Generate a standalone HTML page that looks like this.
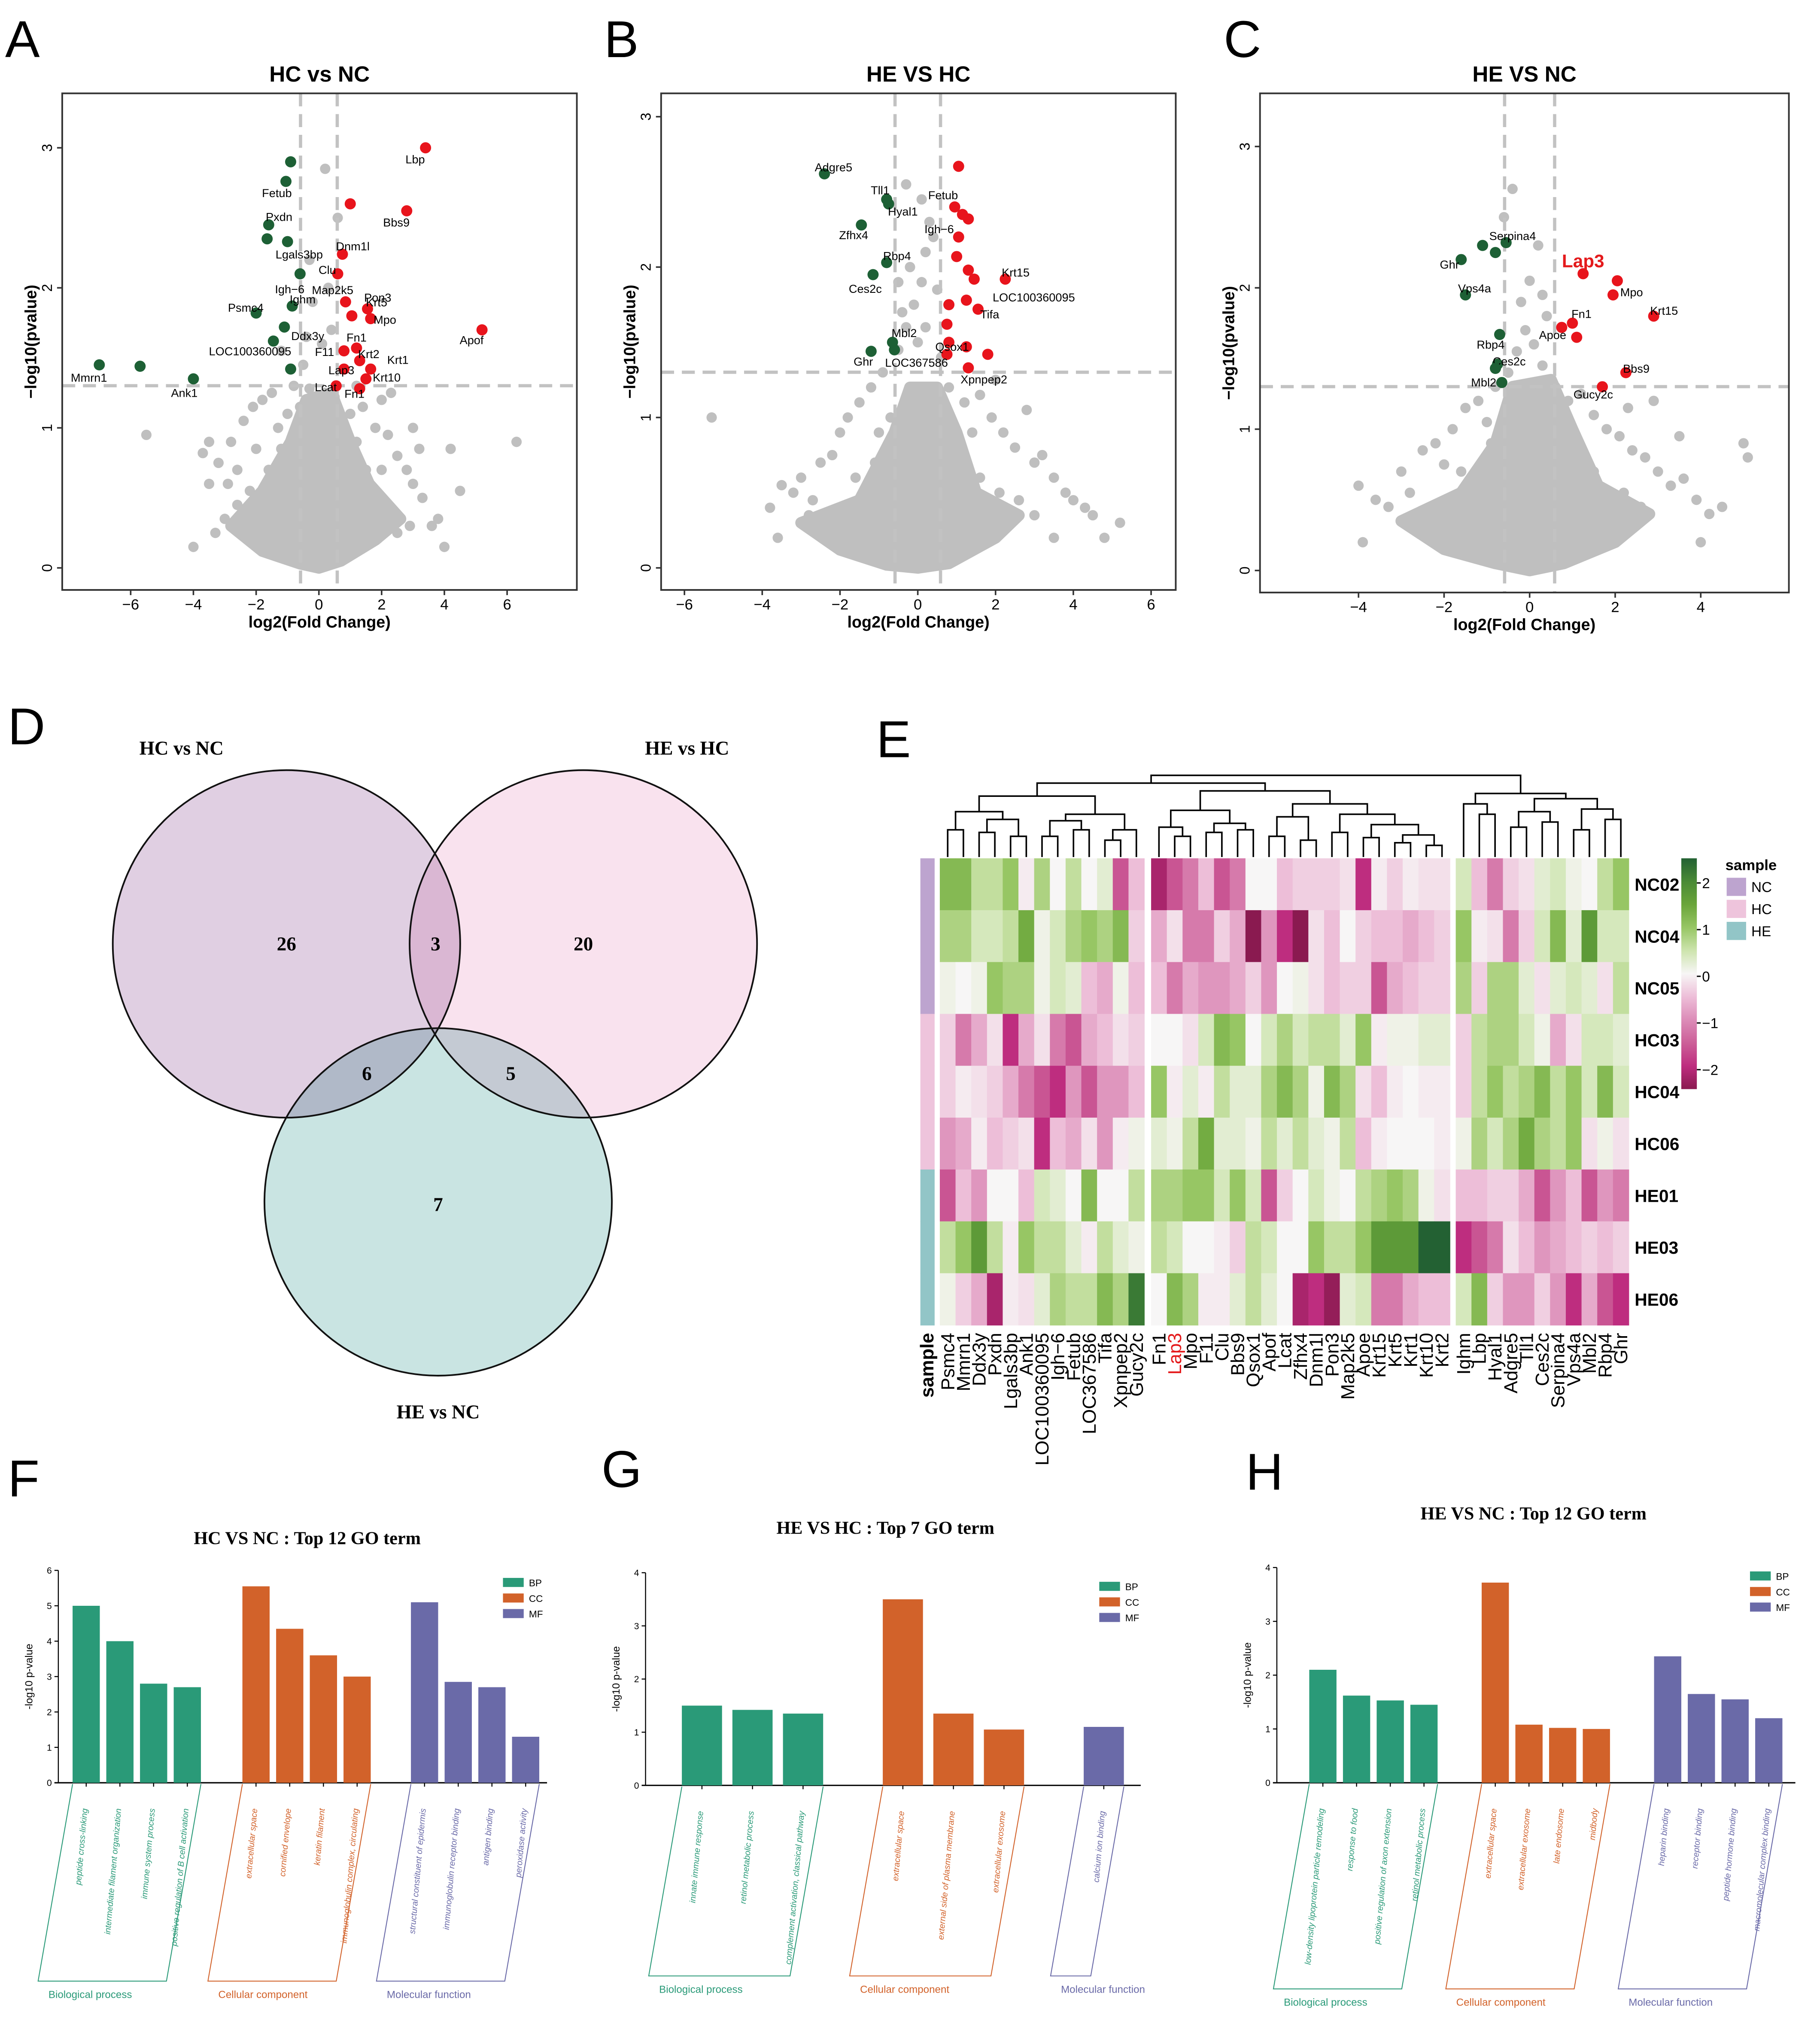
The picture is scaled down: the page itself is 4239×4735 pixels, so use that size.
<!DOCTYPE html>
<html><head><meta charset="utf-8"><style>
html,body{margin:0;padding:0;background:#fff}
svg{display:block}
text{font-family:"Liberation Sans",sans-serif}
.serif{font-family:"Liberation Serif",serif}
</style></head><body>
<svg id="fig" xmlns="http://www.w3.org/2000/svg" width="4239" height="4735" viewBox="0 0 1404 1568" preserveAspectRatio="none">
<rect x="0" y="0" width="1404" height="1568" fill="#fff"/>
<g id="volA"></g>
<g id="volB"></g>
<g id="volC"></g>
<g id="venn"></g>
<g id="heat"></g>
<g id="barF"></g>
<g id="barG"></g>
<g id="barH"></g>
<g id="letters">
<text x="4" y="44" font-size="40">A</text>
<text x="466" y="44" font-size="40">B</text>
<text x="944" y="44" font-size="40">C</text>
<text x="6" y="574" font-size="40">D</text>
<text x="676" y="584" font-size="40">E</text>
<text x="6" y="1154" font-size="40">F</text>
<text x="464" y="1147" font-size="40">G</text>
<text x="961" y="1149" font-size="40">H</text>
</g>
</svg>
<script>
const NS="http://www.w3.org/2000/svg";
function mk(parent,tag,attrs,txt){const e=document.createElementNS(NS,tag);for(const k in attrs)e.setAttribute(k,attrs[k]);if(txt!==undefined)e.textContent=txt;parent.appendChild(e);return e;}

/* ---------------- VOLCANO DATA ---------------- */
const greyA=[[-5.5,0.95],[-3.7,0.82],[-3.5,0.9],[-3.2,0.75],[-2.9,0.6],[-2.6,0.7],[-2.4,1.05],[-2.1,1.15],[-1.8,1.2],[-1.3,1.0],[-2.6,0.45],[-3.0,0.35],[-3.3,0.25],[-2.0,0.85],[-1.5,1.25],[-1.0,1.1],[-0.8,1.3],[-0.3,1.28],[0.2,1.25],[0.5,1.22],[1.0,1.1],[1.4,1.15],[1.8,1.0],[2.2,0.95],[2.5,0.8],[2.8,0.7],[3.0,0.6],[3.3,0.5],[3.8,0.35],[4.2,0.85],[4.5,0.55],[2.0,1.2],[2.3,1.25],[3.0,1.0],[6.3,0.9],[3.6,0.3],[4.0,0.15],[-4.0,0.15],[-1.2,1.55],[-0.5,1.45],[0.2,2.85],[-0.3,2.2],[0.3,2.0],[-0.2,1.9],[0.4,1.7],[-0.4,1.65],[0.1,1.6],[0.6,2.5],[2.5,0.25],[-2.2,0.2],[1.2,0.9],[-1.2,0.85],[-0.7,0.95],[0.8,0.95],[0,1.0],[-3.5,0.6],[-2.8,0.9],[-2.2,0.55],[-1.8,0.4],[2.0,0.7],[2.2,0.45],[1.5,0.7],[-1.2,0.6],[3.2,0.85],[1.2,1.3],[-1.6,0.7],[1.7,0.45],[-2.5,0.3],[2.9,0.3],[-0.6,1.15]];
const coreA=[[-2.8,0.3],[-1.8,0.12],[-0.6,0.03],[0,0.0],[0.7,0.05],[1.8,0.2],[2.6,0.35],[1.6,0.6],[1.0,0.9],[0.4,1.25],[-0.4,1.2],[-0.9,0.9],[-1.8,0.55]];
const redA=[[3.4,3.0],[2.8,2.55],[1.0,2.6],[0.75,2.24],[0.6,2.1],[1.05,1.8],[0.85,1.9],[1.55,1.85],[1.65,1.78],[5.2,1.7],[1.2,1.57],[0.8,1.55],[1.3,1.48],[1.65,1.42],[0.8,1.42],[1.5,1.35],[0.55,1.3],[1.3,1.28]];
const redALab=["Lbp","Bbs9","","Dnm1l","Clu","Pon3","Map2k5","Krt5","Mpo","Apof","Fn1","F11","Krt2","Krt1","Lap3","Krt10","Lcat","Fn1"];
const redAOff=[[-8,9],[-8,9],[0,0],[8,-6],[-8,-3],[20,-14],[-10,-9],[7,-5],[11,1],[-8,8],[0,-8],[-15,1],[7,-5],[21,-7],[-2,1],[16,-1],[-8,1],[-4,4]];
const greenA=[[-0.9,2.9],[-1.05,2.76],[-1.6,2.45],[-1.65,2.35],[-1.0,2.33],[-0.6,2.1],[-0.85,1.87],[-2.0,1.82],[-1.1,1.72],[-1.45,1.62],[-7.0,1.45],[-5.7,1.44],[-4.0,1.35],[-0.9,1.42]];
const greenALab=["","Fetub","Pxdn","","Lgals3bp","Igh−6","Ighm","Psmc4","Ddx3y","LOC100360095","Mmrn1","","Ank1",""];
const greenAOff=[[0,0],[-7,9],[8,-6],[0,0],[9,10],[-8,12],[8,-5],[-8,-4],[18,7],[-18,8],[-8,10],[0,0],[-7,11],[0,0]];

const greyB=[[-5.3,1.0],[-3.8,0.4],[-3.5,0.55],[-3.2,0.5],[-3.0,0.6],[-2.7,0.45],[-2.5,0.7],[-2.2,0.75],[-2.0,0.9],[-1.8,1.0],[-1.5,1.1],[-1.2,1.2],[-0.9,1.3],[-0.5,1.45],[-0.3,1.6],[-0.1,1.75],[0.1,1.9],[0.2,2.1],[0.3,2.3],[0.4,2.2],[0.5,1.85],[0.2,1.6],[0,1.5],[-0.2,2.0],[0.1,2.45],[-0.5,1.9],[-0.4,1.7],[0.6,1.4],[0.8,1.2],[1.2,1.1],[1.6,1.15],[1.9,1.0],[2.2,0.9],[2.5,0.8],[2.8,1.05],[3.0,0.7],[3.2,0.75],[3.5,0.6],[3.8,0.5],[4.0,0.45],[4.3,0.4],[4.5,0.35],[5.2,0.3],[4.8,0.2],[2.0,1.25],[1.4,0.9],[-1.0,0.9],[-3.6,0.2],[3.5,0.2],[0,1.2],[0.5,1.0],[-0.7,1.0],[1.0,0.8],[-0.3,2.55],[-2.2,0.3],[-2.8,0.35],[-1.6,0.6],[-1.1,0.7],[1.6,0.6],[2.1,0.5],[2.6,0.45],[-0.6,0.6],[0.9,0.55],[-1.9,0.35],[3.0,0.35]];
const coreB=[[-3.0,0.3],[-2.0,0.12],[-0.8,0.02],[0,0.0],[0.8,0.03],[2.0,0.2],[2.6,0.35],[1.5,0.5],[1.0,0.9],[0.5,1.2],[-0.2,1.2],[-0.6,0.9],[-1.5,0.45]];
const redB=[[1.05,2.67],[0.95,2.4],[1.15,2.35],[1.3,2.32],[1.05,2.2],[1.0,2.07],[1.3,1.98],[2.25,1.92],[1.45,1.92],[1.25,1.78],[1.55,1.72],[0.8,1.75],[0.75,1.62],[0.8,1.5],[0.75,1.42],[1.25,1.47],[1.8,1.42],[1.3,1.33]];
const redBLab=["","Fetub","","","Igh−6","","","Krt15","","LOC100360095","Tifa","","","","","Qsox1","","Xpnpep2"];
const redBOff=[[0,0],[-9,-9],[0,0],[0,0],[-15,-6],[0,0],[0,0],[8,-5],[0,0],[52,-2],[9,4],[0,0],[0,0],[0,0],[0,0],[-11,0],[0,0],[12,9]];
const greenB=[[-2.4,2.62],[-0.8,2.45],[-0.75,2.42],[-1.45,2.28],[-0.8,2.03],[-1.15,1.95],[-0.65,1.5],[-1.2,1.44],[-0.6,1.45]];
const greenBLab=["Adgre5","Tll1","Hyal1","Zfhx4","Rbp4","Ces2c","Mbl2","Ghr","LOC367586"];
const greenBOff=[[7,-5],[-5,-7],[11,6],[-6,8],[8,-5],[-6,11],[9,-7],[-6,8],[17,10]];

const greyC=[[-4.0,0.6],[-3.6,0.5],[-3.3,0.45],[-3.0,0.7],[-2.8,0.55],[-2.5,0.85],[-2.2,0.9],[-2.0,0.75],[-1.8,1.0],[-1.5,1.15],[-1.2,1.2],[-1.0,1.05],[-0.8,1.3],[-0.5,1.4],[-0.3,1.55],[-0.1,1.7],[0.1,1.6],[0.3,1.45],[0.4,1.8],[0,2.05],[-0.2,1.9],[0.2,2.3],[-0.6,2.5],[0.6,1.3],[0.9,1.2],[1.2,1.25],[1.5,1.1],[1.8,1.0],[2.1,0.95],[2.4,0.85],[2.7,0.8],[3.0,0.7],[3.3,0.6],[3.6,0.65],[3.9,0.5],[4.2,0.4],[4.5,0.45],[5.0,0.9],[5.1,0.8],[2.3,1.15],[2.9,1.2],[3.5,0.95],[1.9,0.4],[-1.9,0.4],[-0.9,0.9],[0.8,0.85],[0,1.1],[-3.9,0.2],[4.0,0.2],[-0.4,2.7],[0.3,1.95],[-2.6,0.4],[-1.6,0.7],[1.5,0.7],[2.2,0.55],[-1.2,0.55],[2.6,0.45],[-2.2,0.3],[1.0,0.6]];
const coreC=[[-3.0,0.35],[-2,0.15],[-0.8,0.05],[0,0.0],[0.8,0.05],[2.0,0.2],[2.8,0.4],[1.6,0.6],[1.0,1.0],[0.5,1.35],[-0.4,1.3],[-0.8,0.9],[-1.6,0.55]];
const redC=[[1.25,2.1],[2.05,2.05],[1.95,1.95],[2.9,1.8],[1.0,1.75],[0.75,1.72],[1.1,1.65],[2.25,1.4],[1.7,1.3]];
const redCLab=["Lap3","Mpo","","Krt15","Fn1","Apoe","","Bbs9","Gucy2c"];
const redCOff=[[0,-8],[11,9],[0,0],[8,-4],[7,-7],[-7,6],[0,0],[8,-3],[-7,6]];
const greenC=[[-0.55,2.32],[-1.1,2.3],[-0.8,2.25],[-1.6,2.2],[-1.5,1.95],[-0.7,1.67],[-0.75,1.46],[-0.8,1.43],[-0.65,1.33]];
const greenCLab=["Serpina4","","","Ghr","Vps4a","Rbp4","Ces2c","","Mbl2"];
const greenCOff=[[5,-5],[0,0],[0,0],[-9,4],[7,-5],[-7,8],[9,-2],[0,0],[-14,0]];

const xticksA=[-6,-4,-2,0,2,4,6], xticksB=[-6,-4,-2,0,2,4,6], xticksC=[-4,-2,0,2,4];
const yticksVol=[0,1,2,3];

function volcano(g,cfg){
  const X=v=>cfg.x0+cfg.xs*v, Y=v=>cfg.y0-cfg.ys*v;
  mk(g,'text',{x:(cfg.bx1+cfg.bx2)/2,y:63,'font-size':17,'font-weight':'bold','text-anchor':'middle',},cfg.title);
  mk(g,'polygon',{points:cfg.core.map(p=>X(p[0])+','+Y(p[1])).join(' '),fill:'#bfbfbf',stroke:'#bfbfbf','stroke-width':9,'stroke-linejoin':'round',});
  cfg.grey.forEach(p=>{const c=mk(g,'circle',{cx:X(p[0]),cy:Y(p[1]),r:4,fill:'#bfbfbf'});
    
    });
  const dash={stroke:'#c2c2c2','stroke-width':2.5,'stroke-dasharray':'10,6',fill:'none'};
  mk(g,'line',Object.assign({x1:X(-0.585),x2:X(-0.585),y1:cfg.by1,y2:cfg.by2,},dash));
  mk(g,'line',Object.assign({x1:X(0.585),x2:X(0.585),y1:cfg.by1,y2:cfg.by2,},dash));
  mk(g,'line',Object.assign({x1:cfg.bx1,x2:cfg.bx2,y1:Y(1.301),y2:Y(1.301),},dash));
  const pts=(arr,lab,off,col,kind)=>arr.forEach((p,i)=>{
    const c=mk(g,'circle',{cx:X(p[0]),cy:Y(p[1]),r:4.3,fill:col});
    
    
    if(lab[i]){const big=lab[i]==='Lap3'&&cfg.title==='HE VS NC';
      const t=mk(g,'text',{x:X(p[0])+off[i][0],y:Y(p[1])+off[i][1]+3,'font-size':big?14:9,'font-weight':big?'bold':'normal',fill:big?'#e41a1c':'#000','text-anchor':'middle'},lab[i]);
      
      }
  });
  pts(cfg.red,cfg.redLab,cfg.redOff,'#e8141c','up');
  pts(cfg.green,cfg.greenLab,cfg.greenOff,'#1d6035','down');
  mk(g,'rect',{x:cfg.bx1,y:cfg.by1,width:cfg.bx2-cfg.bx1,height:cfg.by2-cfg.by1,fill:'none',stroke:'#333','stroke-width':1.3,});
  cfg.xt.forEach(v=>{mk(g,'line',{x1:X(v),x2:X(v),y1:cfg.by2,y2:cfg.by2+4,stroke:'#333','stroke-width':1.2});
    const t=mk(g,'text',{x:X(v),y:cfg.by2+15,'font-size':11.5,'text-anchor':'middle'},v<0?'−'+(-v):String(v));
    
    });
  yticksVol.forEach(v=>{mk(g,'line',{x1:cfg.bx1-4,x2:cfg.bx1,y1:Y(v),y2:Y(v),stroke:'#333','stroke-width':1.2});
    const t=mk(g,'text',{x:cfg.bx1-8,y:Y(v),'font-size':11,'text-anchor':'middle',transform:`rotate(-90 ${cfg.bx1-8} ${Y(v)})`},String(v));
    
    });
  mk(g,'text',{x:(cfg.bx1+cfg.bx2)/2,y:cfg.by2+29,'font-size':12.5,'font-weight':'bold','text-anchor':'middle',},'log2(Fold Change)');
  const yx=cfg.bx1-20, yy=(cfg.by1+cfg.by2)/2;
  mk(g,'text',{x:yx,y:yy,'font-size':12.5,'font-weight':'bold','text-anchor':'middle',transform:`rotate(-90 ${yx} ${yy})`,},'−log10(pvalue)');
}
volcano(document.getElementById('volA'),{title:'HC vs NC',x0:246,xs:24.2,y0:438,ys:108,bx1:48,bx2:445,by1:72,by2:455,grey:greyA,core:coreA,red:redA,redLab:redALab,redOff:redAOff,green:greenA,greenLab:greenALab,greenOff:greenAOff,xt:xticksA});
volcano(document.getElementById('volB'),{title:'HE VS HC',x0:708,xs:30,y0:438,ys:116,bx1:510,bx2:907,by1:72,by2:455,grey:greyB,core:coreB,red:redB,redLab:redBLab,redOff:redBOff,green:greenB,greenLab:greenBLab,greenOff:greenBOff,xt:xticksB});
volcano(document.getElementById('volC'),{title:'HE VS NC',x0:1180,xs:33,y0:440,ys:109,bx1:972,bx2:1380,by1:72,by2:457,grey:greyC,core:coreC,red:redC,redLab:redCLab,redOff:redCOff,green:greenC,greenLab:greenCLab,greenOff:greenCOff,xt:xticksC});

/* ---------------- VENN ---------------- */
(function(){
  const g=document.getElementById('venn');
  const circ=[[221,728,'#e0cfe2','venn-hc-vs-nc'],[450,728,'#f9e2ee','venn-he-vs-hc'],[338,927,'#c9e4e2','venn-he-vs-nc']];
  circ.forEach(c=>{const e=mk(g,'circle',{cx:c[0],cy:c[1],r:134,fill:c[2],style:'mix-blend-mode:multiply'});
    
    });
  circ.forEach(c=>mk(g,'circle',{cx:c[0],cy:c[1],r:134,fill:'none',stroke:'#111','stroke-width':1.3}));
  const labs=[[140,582,'HC vs NC'],[530,582,'HE vs HC'],[338,1094,'HE vs NC']];
  labs.forEach(l=>{const t=mk(g,'text',{x:l[0],y:l[1],'font-size':15,'font-weight':'bold','text-anchor':'middle','class':'serif'},l[2]);
    
    });
  const nums=[[221,733,'26'],[336,733,'3'],[450,733,'20'],[283,833,'6'],[394,833,'5'],[338,934,'7']];
  nums.forEach(n=>{const t=mk(g,'text',{x:n[0],y:n[1],'font-size':15,'font-weight':'bold','text-anchor':'middle','class':'serif'},n[2]);
    
    });
})();

/* ---------------- HEATMAP ---------------- */
const genes=["Psmc4","Mmrn1","Ddx3y","Pxdn","Lgals3bp","Ank1","LOC100360095","Igh−6","Fetub","LOC367586","Tifa","Xpnpep2","Gucy2c",
"Fn1","Lap3","Mpo","F11","Clu","Bbs9","Qsox1","Apof","Lcat","Zfhx4","Dnm1l","Pon3","Map2k5","Apoe","Krt15","Krt5","Krt1","Krt10","Krt2",
"Ighm","Lbp","Hyal1","Adgre5","Tll1","Ces2c","Serpina4","Vps4a","Mbl2","Rbp4","Ghr"];
const samples=["NC02","NC04","NC05","HC03","HC04","HC06","HE01","HE03","HE06"];
const sampleGroup=["NC","NC","NC","HC","HC","HC","HE","HE","HE"];
const z1=[1.2,1.2,0.6,0.6,1.0,-0.1,0.8,0,0.6,0,0.25,-1.6,-0.5, -2.2,-1.6,-1.2,-0.5,-1.6,-1.2,0,0,-0.5,-0.35,-0.35,-0.35,-0.2,-2.0,-0.1,-0.35,-0.1,-0.2,-0.2, 0.4,-0.5,-1.2,-0.35,-0.2,0.25,0.4,0.1,0,0.6,1.0];
const z2=[0.8,0.8,0.4,0.4,0.6,1.4,0.1,0.4,0.8,1.0,0.8,1.2,-0.35, -0.7,-0.2,-1.2,-1.2,-0.35,-0.7,-2.5,-0.9,-2.0,-2.5,-0.2,-0.5,0,-0.35,-0.5,-0.5,-0.7,-0.5,-0.35, 1.0,-0.1,-0.2,-1.2,-0.35,0.4,1.2,0.25,1.7,0.4,0.4];
const z3=[0.1,0,0.1,1.0,0.8,0.8,0.1,0.4,0.25,-0.5,-0.7,0.1,-0.5, -0.5,-1.2,-0.7,-0.9,-0.9,-0.7,-0.35,-0.9,0,0.1,-0.2,-0.5,-0.35,-0.35,-1.6,-0.7,-0.5,-0.35,-0.35, 0.8,-0.35,0.8,0.8,0.25,-0.2,0.25,0.4,0.25,-0.2,0.6];
const z4=[-0.35,-1.2,-0.7,-0.2,-2.0,-0.7,-0.2,-1.2,-1.6,-0.7,-0.5,-0.2,-0.35, 0,0,-0.2,0.4,1.2,1.0,0,0.4,0.8,0.4,0.6,0.6,0.25,1.0,-0.1,0.1,0.1,0.25,0.25, -0.35,0.6,0.8,0.8,0.4,0.1,-0.7,-0.2,0.4,0.4,0.25];
const z5=[-0.35,-0.1,-0.2,-0.35,-0.7,-1.2,-1.6,-2.0,-0.9,-1.6,-0.9,-0.9,-0.5, 1.0,-0.1,0.25,-0.1,0.6,0.25,0.25,0.8,1.2,0.8,0.1,1.2,0.8,-0.2,-0.5,-0.1,0,-0.1,-0.1, -0.35,0.6,1.0,0.6,0.8,1.2,0.6,1.0,0.4,1.2,0.4];
const z6=[-0.9,-0.7,-0.1,-0.5,-0.35,-0.2,-2.0,-0.5,-0.7,-0.2,-0.9,-0.1,0.1, 0.25,0.1,0.6,1.4,0.25,0.25,0.1,0.6,0.25,0.6,0.25,0.1,0.6,-0.5,-0.1,0,0,0,-0.1, 0.1,0.8,0.4,0.8,1.4,0.8,0.6,1.0,-0.2,0.1,-0.2];
const z7=[-1.6,-0.5,-0.9,0,0,-0.5,0.4,0.25,0,1.2,0,0,0.6, 0.8,0.8,1.0,1.0,0.4,1.0,0.4,-1.6,-0.35,0,0.4,0.1,0,0.6,0.8,1.0,0.8,0.1,-0.2, -0.5,-0.5,-0.35,-0.35,-0.7,-1.6,-0.9,-0.5,-1.6,-0.9,-1.2];
const z8=[0.6,1.0,1.7,0.6,-0.1,1.0,0.6,0.6,0.25,-0.1,0.6,0.25,0.1, 0.6,0.4,0,0,-0.1,-0.35,0.6,0.4,0,0,1.0,0.6,0.6,1.0,1.7,1.7,1.7,2.5,2.5, -2.0,-1.6,-1.2,-0.2,-0.5,-0.9,-0.7,-0.5,-0.35,-0.5,-0.35];
const z9=[0.1,-0.35,-0.7,-2.2,-0.1,-0.2,0.25,0.8,0.6,0.6,1.2,0.8,2.2, 0,1.2,0.8,-0.1,-0.1,0.25,0.6,0.25,0,-2.2,-2.0,-2.4,0.25,0.4,-1.2,-1.2,-0.7,-0.5,-0.5, 0.4,1.2,-0.35,-0.9,-0.9,-0.35,-0.9,-2.0,-0.7,-1.6,-2.0];
const zRows=[z1,z2,z3,z4,z5,z6,z7,z8,z9];
const colorTicks=[2,1,0,-1,-2];
const stops=[[-2.5,[138,26,80]],[-2,[190,45,127]],[-1.5,[204,95,152]],[-1,[220,140,184]],[-0.5,[237,190,216]],[0,[247,246,246]],[0.5,[205,228,173]],[1,[151,198,100]],[1.5,[106,165,58]],[2,[74,138,54]],[2.5,[35,97,51]]];
function zcol(v){v=Math.max(-2.5,Math.min(2.5,v));for(let i=0;i<stops.length-1;i++){const a=stops[i],b=stops[i+1];if(v<=b[0]){const t=(v-a[0])/(b[0]-a[0]);const c=a[1].map((x,k)=>Math.round(x+(b[1][k]-x)*t));return `rgb(${c})`;}}return 'rgb(35,97,51)';}
(function(){
  const g=document.getElementById('heat');
  const cw=12.13, rh=40, top=662;
  const colX=i=> i<13 ? 725+i*cw : (i<32 ? 888+(i-13)*cw : 1123+(i-32)*cw);
  zRows.forEach((row,r)=>row.forEach((v,c)=>{
    const e=mk(g,'rect',{x:colX(c),y:top+r*rh,width:cw+0.3,height:rh+0.3,fill:zcol(v)});
    
    }));
  const gcol={NC:'#bda4cf',HC:'#eec4dc',HE:'#92c5c7'};
  sampleGroup.forEach((s,r)=>{const e=mk(g,'rect',{x:710,y:top+r*rh,width:11,height:rh+0.3,fill:gcol[s]});
    
    });
  samples.forEach((s,r)=>{const t=mk(g,'text',{x:1261,y:top+r*rh+25,'font-size':13.5,'font-weight':'bold'},s);
    
    });
  genes.forEach((n,c)=>{const x=colX(c)+cw/2+5,y=1028;
    const t=mk(g,'text',{x:x,y:y,'font-size':14.5,'text-anchor':'end',fill:n==='Lap3'?'#e41a1c':'#000',transform:`rotate(-90 ${x} ${y})`},n);
    
    });
  mk(g,'text',{x:720,y:1028,'font-size':14.5,'font-weight':'bold','text-anchor':'end',transform:'rotate(-90 720 1028)',},'sample');
  const t1=[[[0,1,640],[[2,3,642],[4,5,645],632],626],[[[6,7,645],[8,9,640],633],[[10,11,648],12,640],628],614];
  const t2=[[[13,[14,15,645],638],[[16,17,642],[18,19,640],635],625],[[[20,21,645],[22,23,648],630],[[24,25,642],[[26,27,646],[[28,29,650],[30,31,652],644],636],628],620],610];
  const t3=[[32,[33,34,628],620],[[[35,36,638],[37,38,634],626],[[39,40,640],[41,42,632],624],616],612];
  const tree=[[t1,t2,604],t3,598];
  let d='';
  function draw(n){if(typeof n==='number')return{x:colX(n)+cw/2,y:661};
    const a=draw(n[0]),b=draw(n[1]),h=n[2];
    d+=`M${a.x},${a.y}V${h}H${b.x}V${b.y}`;return{x:(a.x+b.x)/2,y:h};}
  draw(tree);
  mk(g,'path',{d:d,fill:'none',stroke:'#000','stroke-width':1.2,});
  const defs=mk(g,'defs',{});
  const lg=mk(defs,'linearGradient',{id:'zg',x1:0,y1:0,x2:0,y2:1});
  for(let v=2.5,i=0;v>=-2.5;v-=0.5,i++)mk(lg,'stop',{offset:(i/10),'stop-color':zcol(v)});
  mk(g,'rect',{x:1297,y:662,width:12,height:178,fill:'url(#zg)',});
  colorTicks.forEach(v=>{const y=753-v*36;mk(g,'line',{x1:1309,x2:1312,y1:y,y2:y,stroke:'#000'});
    const t=mk(g,'text',{x:1313,y:y+4,'font-size':11},v<0?'−'+(-v):String(v));
    
    });
  mk(g,'text',{x:1331,y:671,'font-size':11.5,'font-weight':'bold',},'sample');
  ['NC','HC','HE'].forEach((s,i)=>{const e=mk(g,'rect',{x:1332,y:677+i*17,width:15,height:14,fill:gcol[s]});
    
    
    const t=mk(g,'text',{x:1351,y:688+i*17,'font-size':11},s);
    
    });
})();

/* ---------------- GO BAR CHARTS ---------------- */
const fBP=[5.0,4.0,2.8,2.7], fCC=[5.55,4.35,3.6,3.0], fMF=[5.1,2.85,2.7,1.3];
const fBPt=["peptide cross-linking","intermediate filament organization","immune system process","positive regulation of B cell activation"];
const fCCt=["extracellular space","cornified envelope","keratin filament","immunoglobulin complex, circulating"];
const fMFt=["structural constituent of epidermis","immunoglobulin receptor binding","antigen binding","peroxidase activity"];
const gBP=[1.5,1.42,1.35], gCC=[3.5,1.35,1.05], gMF=[1.1];
const gBPt=["innate immune response","retinol metabolic process","complement activation, classical pathway"];
const gCCt=["extracellular space","external side of plasma membrane","extracellular exosome"];
const gMFt=["calcium ion binding"];
const hBP=[2.1,1.62,1.53,1.45], hCC=[3.72,1.08,1.02,1.0], hMF=[2.35,1.65,1.55,1.2];
const hBPt=["low-density lipoprotein particle remodeling","response to food","positive regulation of axon extension","retinol metabolic process"];
const hCCt=["extracellular space","extracellular exosome","late endosome","midbody"];
const hMFt=["heparin binding","receptor binding","peptide hormone binding","macromolecular complex binding"];
const yticksF=[0,1,2,3,4,5,6], yticksG=[0,1,2,3,4], yticksH=[0,1,2,3,4];

function goBar(g,cfg){
  const Y=v=>cfg.y0-cfg.ys*v;
  const cols=['#2a9a78','#d2622a','#6a6aa8'], gnames=['Biological process','Cellular component','Molecular function'];
  mk(g,'text',{x:cfg.tx,y:cfg.ty,'font-size':14,'font-weight':'bold','text-anchor':'middle','class':'serif',},cfg.title);
  const ymax=cfg.yt[cfg.yt.length-1];
  mk(g,'line',{x1:cfg.ax,x2:cfg.ax,y1:Y(0),y2:Y(ymax),stroke:'#000','stroke-width':0.8,});
  mk(g,'line',{x1:cfg.ax-3,x2:cfg.axEnd,y1:Y(0),y2:Y(0),stroke:'#000','stroke-width':1,});
  cfg.yt.forEach(v=>{mk(g,'line',{x1:cfg.ax-3,x2:cfg.ax,y1:Y(v),y2:Y(v),stroke:'#000','stroke-width':0.8});
    const t=mk(g,'text',{x:cfg.ax-5,y:Y(v)+2.5,'font-size':7,'text-anchor':'end'},String(v));
    
    });
  const yx=cfg.ax-20,yy=(Y(0)+Y(ymax))/2;
  mk(g,'text',{x:yx,y:yy,'font-size':8,'text-anchor':'middle',transform:`rotate(-90 ${yx} ${yy})`,},'-log10 p-value');
  cfg.groups.forEach((grp,gi)=>{
    const gx=cfg.gx[gi];
    grp.vals.forEach((v,i)=>{const x=gx+i*cfg.step;
      const r=mk(g,'rect',{x:x,y:Y(v),width:cfg.bw,height:cfg.ys*v,fill:cols[gi]});
      
      
      mk(g,'line',{x1:x+cfg.bw/2,x2:x+cfg.bw/2,y1:Y(0),y2:Y(0)+3,stroke:'#000','stroke-width':0.8});
      const lx=x+cfg.bw/2+1, ly=Y(0)+20;
      const t=mk(g,'text',{x:lx,y:ly,'font-size':6.5,'font-style':'italic',fill:cols[gi],'text-anchor':'end',transform:`rotate(-85 ${lx} ${ly})`},grp.labs[i]);
      
      });
    const x0=gx, x1=gx+(grp.vals.length-1)*cfg.step+cfg.bw, yb=cfg.yb, yt=Y(0)+1, sh=(yb-yt)*0.175;
    const p=mk(g,'path',{d:`M${x0},${yt} L${x0-sh},${yb} L${x1-sh},${yb} L${x1},${yt}`,fill:'none',stroke:cols[gi],'stroke-width':0.7});
    
    
    const t=mk(g,'text',{x:x0-sh+8,y:yb+13,'font-size':8,fill:cols[gi],'text-anchor':'start'},gnames[gi]);
    
    
  });
  ['BP','CC','MF'].forEach((s,i)=>{const r=mk(g,'rect',{x:cfg.lx,y:cfg.ly+i*12,width:16,height:7,fill:cols[i]});
    
    
    const t=mk(g,'text',{x:cfg.lx+20,y:cfg.ly+i*12+6.5,'font-size':7.5},s);
    
    });
}
goBar(document.getElementById('barF'),{title:'HC VS NC : Top 12 GO term',tx:237,ty:1191,ax:45,axEnd:422,y0:1375,ys:27.3,yt:yticksF,bw:21,step:26,gx:[56,187,317],yb:1528,lx:388,ly:1217,
  groups:[{vals:fBP,labs:fBPt},{vals:fCC,labs:fCCt},{vals:fMF,labs:fMFt}]});
goBar(document.getElementById('barG'),{title:'HE VS HC : Top 7 GO term',tx:683,ty:1183,ax:498,axEnd:880,y0:1377,ys:41,yt:yticksG,bw:31,step:39,gx:[526,681,836],yb:1524,lx:848,ly:1220,
  groups:[{vals:gBP,labs:gBPt},{vals:gCC,labs:gCCt},{vals:gMF,labs:gMFt}]});
goBar(document.getElementById('barH'),{title:'HE VS NC : Top 12 GO term',tx:1183,ty:1172,ax:985,axEnd:1385,y0:1375,ys:41.5,yt:yticksH,bw:21,step:26,gx:[1010,1143,1276],yb:1534,lx:1350,ly:1212,
  groups:[{vals:hBP,labs:hBPt},{vals:hCC,labs:hCCt},{vals:hMF,labs:hMFt}]});
</script>
</body></html>
